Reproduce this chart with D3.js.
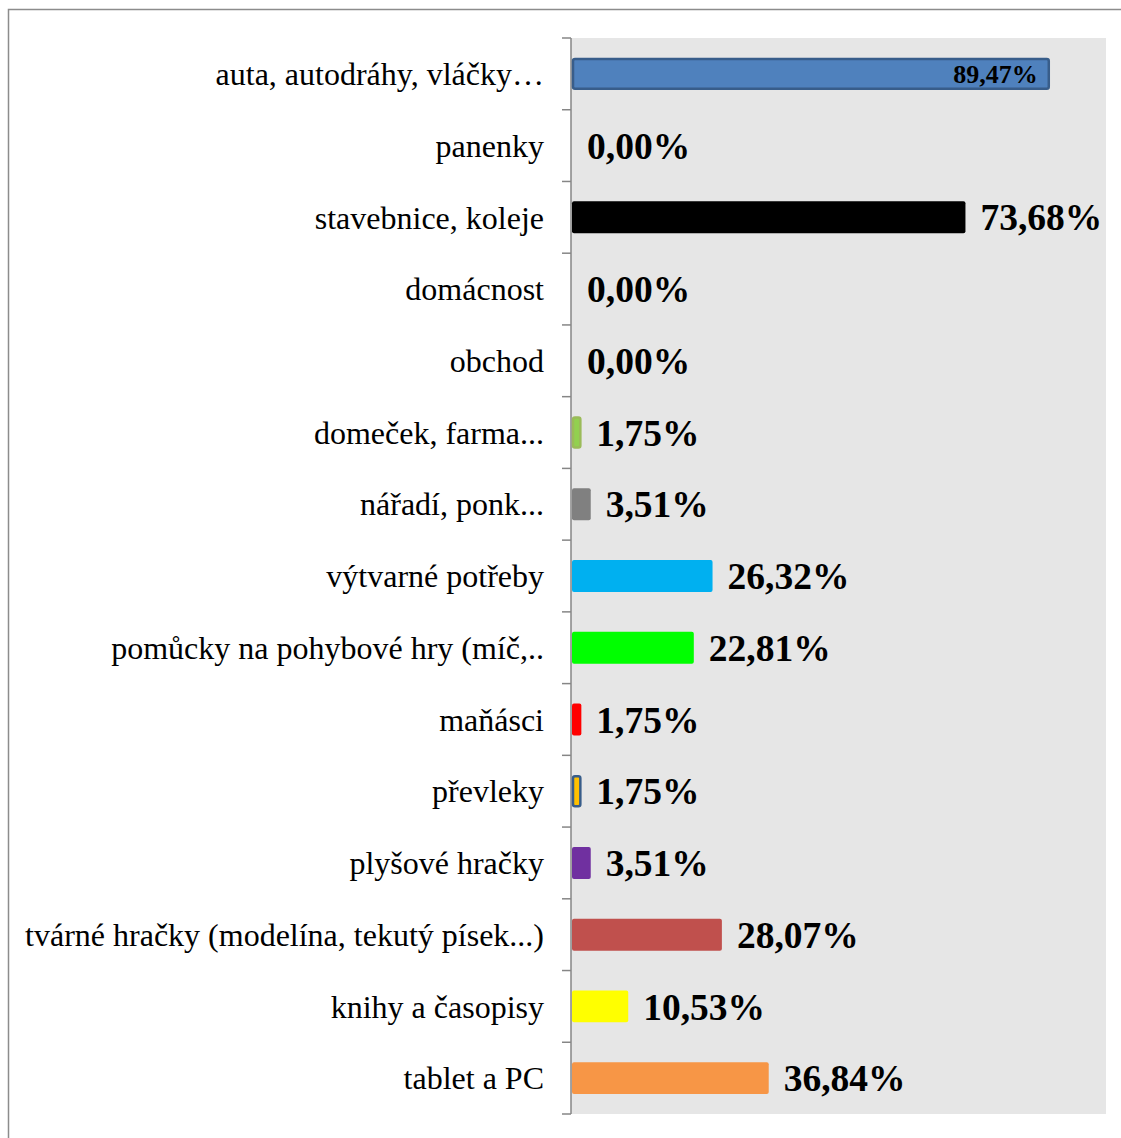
<!DOCTYPE html>
<html>
<head>
<meta charset="utf-8">
<script src="https://cdn.jsdelivr.net/npm/d3@7"></script>
<style>
  html, body { margin: 0; padding: 0; background: #ffffff; }
  svg { display: block; }
</style>
</head>
<body>
<script>
// Toy categories and the share of respondents choosing each one (%)
const categories = [
  "auta, autodráhy, vláčky…",
  "panenky",
  "stavebnice, koleje",
  "domácnost",
  "obchod",
  "domeček, farma...",
  "nářadí, ponk...",
  "výtvarné potřeby",
  "pomůcky na pohybové hry (míč,..",
  "maňásci",
  "převleky",
  "plyšové hračky",
  "tvárné hračky (modelína, tekutý písek...)",
  "knihy a časopisy",
  "tablet a PC"
];
const values = [89.47, 0, 73.68, 0, 0, 1.75, 3.51, 26.32, 22.81, 1.75, 1.75, 3.51, 28.07, 10.53, 36.84];
const fills = ["#4f81bd", "#000000", "#000000", "#000000", "#000000", "#92d050", "#808080", "#00b0f0",
               "#00ff00", "#ff0000", "#ffc000", "#7030a0", "#c0504d", "#ffff00", "#f79646"];
const strokes = ["#385d8a", null, null, null, null, "#9bbb59", null, null,
                 null, null, "#385d8a", null, null, null, null];
// Bars whose value label sits inside the bar
const insideLabel = [true, false, false, false, false, false, false, false,
                     false, false, false, false, false, false, false];

const W = 1121, H = 1138;
const plot = { left: 571, right: 1106, top: 38, bottom: 1114 };
const serif = "'Liberation Serif', 'Times New Roman', Times, serif";

const svg = d3.select("body").append("svg")
  .attr("width", W).attr("height", H);

// Outer chart frame (top and left edges visible)
svg.append("path")
  .attr("d", `M8.5,${H} L8.5,9.5 L${W},9.5`)
  .attr("fill", "none").attr("stroke", "#8c8c8c").attr("stroke-width", 1.5);

const x = d3.scaleLinear().domain([0, 100]).range([plot.left + 1, plot.right]);
const y = d3.scaleBand().domain(categories)
  .range([plot.top, plot.bottom])
  .paddingInner(0.555).paddingOuter(0.2775);

// Category labels (drawn first so the plot area trims any overflow)
svg.append("g").selectAll("text").data(categories).join("text")
  .attr("x", plot.left - 27)
  .attr("y", d => y(d) + y.bandwidth() / 2)
  .attr("dy", "0.35em")
  .attr("text-anchor", "end")
  .attr("font-family", serif)
  .attr("font-size", 32)
  .attr("fill", "#000")
  .text(d => d);

// Plot area background
svg.append("rect")
  .attr("x", plot.left).attr("y", plot.top)
  .attr("width", plot.right - plot.left).attr("height", plot.bottom - plot.top)
  .attr("fill", "#e6e6e6");

// Category axis with ticks on band boundaries
const axisG = svg.append("g").attr("stroke", "#868686").attr("stroke-width", 1.5);
axisG.append("line")
  .attr("x1", plot.left).attr("x2", plot.left)
  .attr("y1", plot.top).attr("y2", plot.bottom);
const boundaries = d3.range(categories.length + 1).map(i => plot.top + i * y.step());
axisG.selectAll("line.tick").data(boundaries).join("line")
  .attr("class", "tick")
  .attr("x1", plot.left - 9).attr("x2", plot.left)
  .attr("y1", d => d).attr("y2", d => d);

const rows = categories.map((c, i) => ({
  c, v: values[i], fill: fills[i], stroke: strokes[i], inside: insideLabel[i]
}));

// Bars
svg.append("g").selectAll("rect").data(rows.filter(d => d.v > 0)).join("rect")
  .attr("x", d => x(0) + (d.stroke ? 1 : 0))
  .attr("y", d => y(d.c) + (d.stroke ? 1 : 0))
  .attr("width", d => x(d.v) - x(0) - (d.stroke ? 2 : 0))
  .attr("height", d => y.bandwidth() - (d.stroke ? 2 : 0))
  .attr("rx", 2)
  .attr("fill", d => d.fill)
  .attr("stroke", d => d.stroke || "none")
  .attr("stroke-width", d => d.stroke ? 2.5 : 0);

const fmt = v => d3.format(".2f")(v).replace(".", ",") + "%";

// Value labels
svg.append("g").selectAll("text").data(rows).join("text")
  .attr("x", d => d.inside ? x(d.v) - 12 : x(d.v) + 15)
  .attr("y", d => y(d.c) + y.bandwidth() / 2)
  .attr("dy", "0.35em")
  .attr("text-anchor", d => d.inside ? "end" : "start")
  .attr("font-family", serif)
  .attr("font-weight", "bold")
  .attr("font-size", d => d.inside ? 26 : 37.5)
  .attr("fill", "#000")
  .text(d => fmt(d.v));
</script>
</body>
</html>
